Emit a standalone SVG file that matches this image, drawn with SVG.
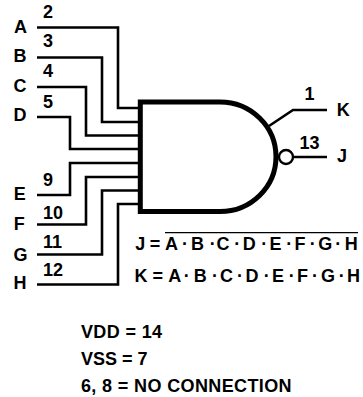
<svg xmlns="http://www.w3.org/2000/svg" width="363" height="397" viewBox="0 0 363 397">
<style>
text{font-family:"Liberation Sans",Arial,sans-serif;font-weight:bold;fill:#000;font-size:18px}
.w{fill:none;stroke:#000;stroke-width:2.6}
</style>
<rect width="363" height="397" fill="#fff"/>
<g id="connectors">
<path class="w" d="M37 27.500H118V108H139"/>
<path class="w" d="M37 57.500H102V122H139"/>
<path class="w" d="M37 87H86V135.500H139"/>
<path class="w" d="M37 117H70V149H139"/>
<path class="w" d="M37 195H70V163H139"/>
<path class="w" d="M37 224.500H86V177H139"/>
<path class="w" d="M37 254.500H102V190.500H139"/>
<path class="w" d="M37 284.500H118V204H139"/>
<path class="w" d="M269 126L293 110H327"/>
<path class="w" d="M294 157H327"/>
</g>
<g id="gate">
<path d="M140.300 102H220A56 54.750 0 0 1 220 211.500H140.300Z" fill="none" stroke="#000" stroke-width="5"/>
<circle cx="286" cy="157" r="7" fill="#fff" stroke="#000" stroke-width="2.400"/>
</g>
<g id="labels">
<text x="14" y="33">A</text>
<text x="13.500" y="62">B</text>
<text x="13.500" y="92">C</text>
<text x="13.500" y="120.500">D</text>
<text x="13.800" y="200">E</text>
<text x="13.800" y="230">F</text>
<text x="13.500" y="260.500">G</text>
<text x="13.500" y="289">H</text>
<text x="336.700" y="116">K</text>
<text x="337" y="161.500">J</text>
<text x="43" y="18">2</text>
<text x="43" y="46.500">3</text>
<text x="43" y="76.500">4</text>
<text x="43" y="107.500">5</text>
<text x="43" y="185.500">9</text>
<text x="43" y="219">10</text>
<text x="43" y="248">11</text>
<text x="43" y="276">12</text>
<text x="304.500" y="100">1</text>
<text x="299.500" y="149">13</text>
<text x="135.300 145 149.800 160 165 176 182 188 191 205 209.700 214 216.500 230 234.300 239 242.700 257 261.300 266 269.400 281 286.300 291 294.400 305 309.700 314 318.200 331 335.300 340 344.700" y="250">J = A · B · C · D · E · F · G · H</text>
<path d="M165 232.700H358" stroke="#000" stroke-width="1.200"/>
<text x="134.400 147 152.500 163 168.300 180 183.700 190 193.700 207 212 217 220 234 237 242 245.400 259 263.700 268 272 284 288.700 293 297 308 312 317 321 334 338.700 344 347" y="281.500">K = A · B · C · D · E · F · G · H</text>
<text x="81" y="337.500" textLength="81">VDD = 14</text>
<text x="81" y="364.500">VSS = 7</text>
<text x="81" y="391.500" textLength="210.500">6, 8 = NO CONNECTION</text>
</g>
</svg>
